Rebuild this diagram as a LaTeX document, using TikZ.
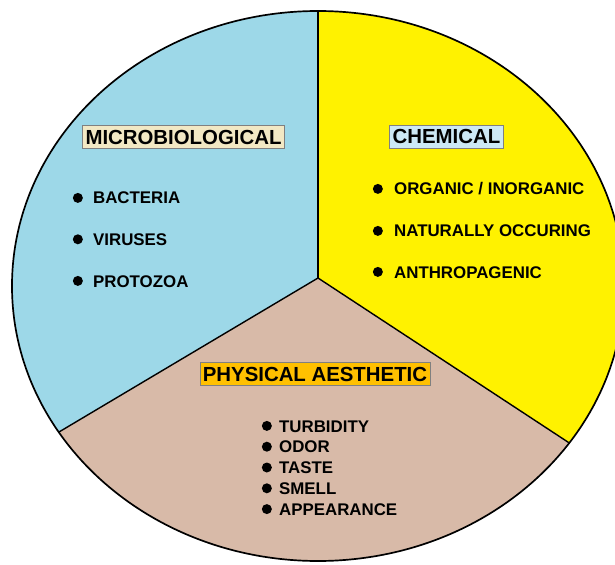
\documentclass[tikz,border=0pt]{standalone}
\usepackage{fontspec}
\setmainfont{Liberation Sans}
\usepackage{xcolor}
\usepackage{tikz}
\definecolor{C0}{RGB}{157,216,232}
\definecolor{C1}{RGB}{255,242,  0}
\definecolor{C2}{RGB}{216,186,168}
\definecolor{B0}{RGB}{242,232,196}
\definecolor{B1}{RGB}{204,232,245}
\definecolor{B2}{RGB}{255,192,  0}

\tikzset{
    head/.style={draw=gray, line width=0.8pt,
        font=\fontsize{29}{30}\selectfont\bfseries,
        text height=0.734cm, text depth=0pt,
        inner xsep=0.15cm, inner ysep=0.21cm},
    item/.style={font=\fontsize{24}{26}\selectfont\bfseries,
        anchor=base west, inner sep=0pt,
        text height=0.61cm, text depth=0pt,
        label={[bul, xshift=-#1]left:{}}},
    bul/.style={circle, fill=black, inner sep=0pt, minimum size=0.5cm,
        text height=, text depth=},
}

\begin{document}
\begin{tikzpicture}[scale=1.0]

    \useasboundingbox (-15.9,-13.9) rectangle (14.85,14.3);

    \coordinate (O) at (0,0);

    %% Spoke ends
    \coordinate (J) at (0,0.4);
    \coordinate (T) at (90:15.3 and 13.75);
    \coordinate (L) at (212.1:15.3 and 13.75);
    \coordinate (R) at (-34.8:15.3 and 13.75);

    %% --- Sectors ---
    \fill[C0] (J) -- (T) arc[start angle=90, end angle=212.1, x radius=15.3, y radius=13.75] -- cycle;
    \fill[C1] (J) -- (T) arc[start angle=90, end angle=-34.8, x radius=15.3, y radius=13.75] -- cycle;
    \fill[C2] (J) -- (L) arc[start angle=212.1, end angle=325.2, x radius=15.3, y radius=13.75] -- cycle;

    \draw[black, line width=2.4pt] (O) ellipse[x radius=15.3, y radius=13.75];
    \draw[black, line width=2pt] (J) -- (T);
    \draw[black, line width=2pt] (J) -- (L);
    \draw[black, line width=2pt] (J) -- (R);

    %% Microbiological
    \node[head, fill=B0] (micro) at (-6.725,7.45) {MICROBIOLOGICAL};
    \node[item=0.5cm] (bact) at (-11.25,4.1) {BACTERIA};
    \node[item=0.5cm] (viru) at (-11.25,2.03) {VIRUSES};
    \node[item=0.5cm] (prot) at (-11.25,-0.05) {PROTOZOA};

    %% Chemical
    \node[head, fill=B1] (chem) at (6.425,7.475) {CHEMICAL};
    \node[item=0.55cm] (orga) at (3.8,4.55) {ORGANIC / INORGANIC};
    \node[item=0.55cm] (natu) at (3.8,2.45) {NATURALLY OCCURING};
    \node[item=0.55cm] (anth) at (3.8,0.4) {ANTHROPAGENIC};

    %% Physical aesthetic
    \node[head, fill=B2] (phys) at (-0.15,-4.4) {PHYSICAL AESTHETIC};
    \node[item=0.35cm] (turb) at (-1.95,-7.3) {TURBIDITY};
    \node[item=0.35cm] (odor) at (-1.95,-8.34) {ODOR};
    \node[item=0.35cm] (tast) at (-1.95,-9.38) {TASTE};
    \node[item=0.35cm] (smel) at (-1.95,-10.42) {SMELL};
    \node[item=0.35cm] (appe) at (-1.95,-11.46) {APPEARANCE};

\end{tikzpicture}
\end{document}
